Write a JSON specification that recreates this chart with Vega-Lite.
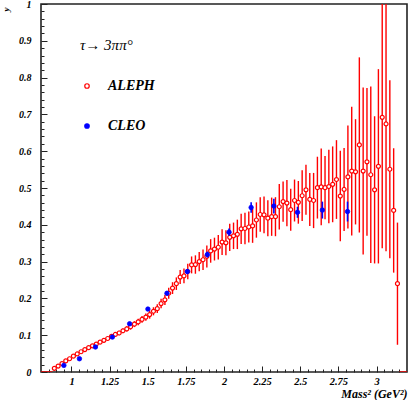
{
  "$schema": "https://vega.github.io/schema/vega-lite/v6.json",
  "width": 366,
  "height": 368,
  "autosize": {"type": "none"},
  "padding": {"left": 41, "top": 4, "right": 2, "bottom": 28},
  "background": "white",
  "config": {"view": {"stroke": "#222", "strokeWidth": 1.6}, "font": "Liberation Serif"},
  "datasets": {
    "zero": [{"a": 0.8, "b": 0.875}, {"a": 3.15, "b": 3.2}],
    "aleph": [
      {"exp":"ALEPH","x":0.8875,"y":0.010,"lo":0.007,"hi":0.013},
      {"exp":"ALEPH","x":0.9125,"y":0.016,"lo":0.013,"hi":0.019},
      {"exp":"ALEPH","x":0.9375,"y":0.023,"lo":0.020,"hi":0.026},
      {"exp":"ALEPH","x":0.9625,"y":0.030,"lo":0.027,"hi":0.033},
      {"exp":"ALEPH","x":0.9875,"y":0.036,"lo":0.033,"hi":0.039},
      {"exp":"ALEPH","x":1.0125,"y":0.043,"lo":0.040,"hi":0.046},
      {"exp":"ALEPH","x":1.0375,"y":0.049,"lo":0.046,"hi":0.052},
      {"exp":"ALEPH","x":1.0625,"y":0.055,"lo":0.052,"hi":0.058},
      {"exp":"ALEPH","x":1.0875,"y":0.061,"lo":0.058,"hi":0.064},
      {"exp":"ALEPH","x":1.1125,"y":0.066,"lo":0.062,"hi":0.070},
      {"exp":"ALEPH","x":1.1375,"y":0.071,"lo":0.067,"hi":0.075},
      {"exp":"ALEPH","x":1.1625,"y":0.076,"lo":0.072,"hi":0.080},
      {"exp":"ALEPH","x":1.1875,"y":0.081,"lo":0.077,"hi":0.085},
      {"exp":"ALEPH","x":1.2125,"y":0.086,"lo":0.081,"hi":0.091},
      {"exp":"ALEPH","x":1.2375,"y":0.091,"lo":0.086,"hi":0.096},
      {"exp":"ALEPH","x":1.2625,"y":0.097,"lo":0.092,"hi":0.102},
      {"exp":"ALEPH","x":1.2875,"y":0.102,"lo":0.096,"hi":0.108},
      {"exp":"ALEPH","x":1.3125,"y":0.106,"lo":0.100,"hi":0.112},
      {"exp":"ALEPH","x":1.3375,"y":0.112,"lo":0.106,"hi":0.118},
      {"exp":"ALEPH","x":1.3625,"y":0.117,"lo":0.110,"hi":0.124},
      {"exp":"ALEPH","x":1.3875,"y":0.123,"lo":0.115,"hi":0.131},
      {"exp":"ALEPH","x":1.4125,"y":0.130,"lo":0.122,"hi":0.138},
      {"exp":"ALEPH","x":1.4375,"y":0.136,"lo":0.127,"hi":0.145},
      {"exp":"ALEPH","x":1.4625,"y":0.143,"lo":0.134,"hi":0.152},
      {"exp":"ALEPH","x":1.4875,"y":0.149,"lo":0.139,"hi":0.159},
      {"exp":"ALEPH","x":1.5125,"y":0.156,"lo":0.145,"hi":0.167},
      {"exp":"ALEPH","x":1.5375,"y":0.165,"lo":0.154,"hi":0.176},
      {"exp":"ALEPH","x":1.5625,"y":0.172,"lo":0.160,"hi":0.184},
      {"exp":"ALEPH","x":1.5875,"y":0.186,"lo":0.173,"hi":0.199},
      {"exp":"ALEPH","x":1.6125,"y":0.196,"lo":0.182,"hi":0.210},
      {"exp":"ALEPH","x":1.6375,"y":0.214,"lo":0.199,"hi":0.229},
      {"exp":"ALEPH","x":1.6625,"y":0.228,"lo":0.212,"hi":0.244},
      {"exp":"ALEPH","x":1.6875,"y":0.240,"lo":0.223,"hi":0.257},
      {"exp":"ALEPH","x":1.7125,"y":0.258,"lo":0.239,"hi":0.277},
      {"exp":"ALEPH","x":1.7375,"y":0.261,"lo":0.241,"hi":0.281},
      {"exp":"ALEPH","x":1.7625,"y":0.273,"lo":0.252,"hi":0.294},
      {"exp":"ALEPH","x":1.7875,"y":0.291,"lo":0.268,"hi":0.314},
      {"exp":"ALEPH","x":1.8125,"y":0.292,"lo":0.267,"hi":0.317},
      {"exp":"ALEPH","x":1.8375,"y":0.300,"lo":0.274,"hi":0.326},
      {"exp":"ALEPH","x":1.8625,"y":0.305,"lo":0.277,"hi":0.333},
      {"exp":"ALEPH","x":1.8875,"y":0.314,"lo":0.284,"hi":0.344},
      {"exp":"ALEPH","x":1.9125,"y":0.329,"lo":0.297,"hi":0.361},
      {"exp":"ALEPH","x":1.9375,"y":0.334,"lo":0.303,"hi":0.365},
      {"exp":"ALEPH","x":1.9625,"y":0.339,"lo":0.306,"hi":0.372},
      {"exp":"ALEPH","x":1.9875,"y":0.353,"lo":0.318,"hi":0.388},
      {"exp":"ALEPH","x":2.0125,"y":0.351,"lo":0.317,"hi":0.385},
      {"exp":"ALEPH","x":2.0375,"y":0.366,"lo":0.329,"hi":0.403},
      {"exp":"ALEPH","x":2.0625,"y":0.370,"lo":0.334,"hi":0.406},
      {"exp":"ALEPH","x":2.0875,"y":0.374,"lo":0.334,"hi":0.414},
      {"exp":"ALEPH","x":2.1125,"y":0.389,"lo":0.348,"hi":0.430},
      {"exp":"ALEPH","x":2.1375,"y":0.390,"lo":0.347,"hi":0.433},
      {"exp":"ALEPH","x":2.1625,"y":0.394,"lo":0.352,"hi":0.436},
      {"exp":"ALEPH","x":2.1875,"y":0.397,"lo":0.351,"hi":0.443},
      {"exp":"ALEPH","x":2.2125,"y":0.413,"lo":0.365,"hi":0.461},
      {"exp":"ALEPH","x":2.2375,"y":0.428,"lo":0.381,"hi":0.475},
      {"exp":"ALEPH","x":2.2625,"y":0.427,"lo":0.377,"hi":0.477},
      {"exp":"ALEPH","x":2.2875,"y":0.418,"lo":0.369,"hi":0.467},
      {"exp":"ALEPH","x":2.3125,"y":0.422,"lo":0.370,"hi":0.474},
      {"exp":"ALEPH","x":2.3375,"y":0.422,"lo":0.369,"hi":0.475},
      {"exp":"ALEPH","x":2.3625,"y":0.449,"lo":0.387,"hi":0.511},
      {"exp":"ALEPH","x":2.3875,"y":0.463,"lo":0.408,"hi":0.518},
      {"exp":"ALEPH","x":2.4125,"y":0.459,"lo":0.396,"hi":0.522},
      {"exp":"ALEPH","x":2.4375,"y":0.441,"lo":0.384,"hi":0.498},
      {"exp":"ALEPH","x":2.4625,"y":0.466,"lo":0.409,"hi":0.523},
      {"exp":"ALEPH","x":2.4875,"y":0.461,"lo":0.403,"hi":0.519},
      {"exp":"ALEPH","x":2.5125,"y":0.479,"lo":0.410,"hi":0.548},
      {"exp":"ALEPH","x":2.5375,"y":0.495,"lo":0.427,"hi":0.563},
      {"exp":"ALEPH","x":2.5625,"y":0.469,"lo":0.397,"hi":0.541},
      {"exp":"ALEPH","x":2.5875,"y":0.466,"lo":0.391,"hi":0.541},
      {"exp":"ALEPH","x":2.6125,"y":0.501,"lo":0.417,"hi":0.585},
      {"exp":"ALEPH","x":2.6375,"y":0.503,"lo":0.399,"hi":0.607},
      {"exp":"ALEPH","x":2.6625,"y":0.501,"lo":0.415,"hi":0.587},
      {"exp":"ALEPH","x":2.6875,"y":0.504,"lo":0.404,"hi":0.604},
      {"exp":"ALEPH","x":2.7125,"y":0.510,"lo":0.407,"hi":0.613},
      {"exp":"ALEPH","x":2.7375,"y":0.523,"lo":0.416,"hi":0.630},
      {"exp":"ALEPH","x":2.7625,"y":0.478,"lo":0.355,"hi":0.601},
      {"exp":"ALEPH","x":2.7875,"y":0.496,"lo":0.383,"hi":0.609},
      {"exp":"ALEPH","x":2.8125,"y":0.530,"lo":0.390,"hi":0.670},
      {"exp":"ALEPH","x":2.8375,"y":0.546,"lo":0.371,"hi":0.721},
      {"exp":"ALEPH","x":2.8625,"y":0.544,"lo":0.401,"hi":0.687},
      {"exp":"ALEPH","x":2.8875,"y":0.617,"lo":0.379,"hi":0.855},
      {"exp":"ALEPH","x":2.9125,"y":0.546,"lo":0.319,"hi":0.773},
      {"exp":"ALEPH","x":2.9375,"y":0.571,"lo":0.370,"hi":0.772},
      {"exp":"ALEPH","x":2.9625,"y":0.536,"lo":0.296,"hi":0.776},
      {"exp":"ALEPH","x":2.9875,"y":0.495,"lo":0.295,"hi":0.695},
      {"exp":"ALEPH","x":3.0125,"y":0.559,"lo":0.295,"hi":0.823},
      {"exp":"ALEPH","x":3.0375,"y":0.692,"lo":0.336,"hi":1.048},
      {"exp":"ALEPH","x":3.0625,"y":0.674,"lo":0.328,"hi":1.020},
      {"exp":"ALEPH","x":3.0875,"y":0.551,"lo":0.309,"hi":0.793},
      {"exp":"ALEPH","x":3.1125,"y":0.439,"lo":0.270,"hi":0.608},
      {"exp":"ALEPH","x":3.1375,"y":0.240,"lo":0.074,"hi":0.406}
    ],
    "cleo": [
      {"exp":"CLEO","x":0.950,"y":0.018,"lo":0.015,"hi":0.021},
      {"exp":"CLEO","x":1.052,"y":0.036,"lo":0.033,"hi":0.039},
      {"exp":"CLEO","x":1.157,"y":0.068,"lo":0.065,"hi":0.071},
      {"exp":"CLEO","x":1.268,"y":0.095,"lo":0.091,"hi":0.099},
      {"exp":"CLEO","x":1.381,"y":0.131,"lo":0.127,"hi":0.135},
      {"exp":"CLEO","x":1.501,"y":0.171,"lo":0.166,"hi":0.176},
      {"exp":"CLEO","x":1.626,"y":0.214,"lo":0.208,"hi":0.220},
      {"exp":"CLEO","x":1.760,"y":0.273,"lo":0.266,"hi":0.280},
      {"exp":"CLEO","x":1.891,"y":0.319,"lo":0.311,"hi":0.327},
      {"exp":"CLEO","x":2.033,"y":0.380,"lo":0.370,"hi":0.390},
      {"exp":"CLEO","x":2.178,"y":0.447,"lo":0.433,"hi":0.461},
      {"exp":"CLEO","x":2.327,"y":0.451,"lo":0.431,"hi":0.471},
      {"exp":"CLEO","x":2.482,"y":0.434,"lo":0.419,"hi":0.449},
      {"exp":"CLEO","x":2.645,"y":0.440,"lo":0.417,"hi":0.463},
      {"exp":"CLEO","x":2.810,"y":0.436,"lo":0.409,"hi":0.463}
    ]
  },
  "resolve": {"axis": {"x": "independent", "y": "independent"}},
  "layer": [
    {
      "data": {"name": "zero"},
      "mark": {"type": "rule", "color": "#ff0000", "strokeWidth": 1.4, "clip": true},
      "encoding": {
        "x": {"field": "a", "type": "quantitative", "scale": {"domain": [0.8, 3.2], "nice": false, "zero": false},
          "axis": {"orient": "bottom", "values": [1, 1.25, 1.5, 1.75, 2, 2.25, 2.5, 2.75, 3], "labelExpr": "'' + datum.value", "ticks": false, "domain": false, "grid": false,
            "labelFont": "Liberation Serif", "labelFontSize": 10.5, "labelFontWeight": "bold", "labelFontStyle": "italic", "labelColor": "black", "labelPadding": 4, "labelFlush": false, "labelOverlap": false,
            "title": "Mass² (GeV²)", "titleFont": "Liberation Serif", "titleFontSize": 12, "titleFontWeight": "bold", "titleFontStyle": "italic", "titleColor": "black",
            "titleX": 366, "titleY": 21, "titleAlign": "right", "titleBaseline": "middle", "titleAngle": 0}},
        "x2": {"field": "b"},
        "y": {"datum": 0, "type": "quantitative", "scale": {"domain": [0, 1], "nice": false},
          "axis": {"orient": "left", "values": [0, 0.1, 0.2, 0.3, 0.4, 0.5, 0.6, 0.7, 0.8, 0.9, 1], "labelExpr": "'' + datum.value", "ticks": false, "domain": false, "grid": false,
            "labelFont": "Liberation Serif", "labelFontSize": 10, "labelFontWeight": "bold", "labelFontStyle": "italic", "labelColor": "black", "labelPadding": 10, "labelFlush": false, "labelOverlap": false,
            "title": "y", "titleFont": "Liberation Serif", "titleFontSize": 9, "titleFontWeight": "bold", "titleFontStyle": "italic", "titleColor": "black",
            "titleX": -36, "titleY": 5, "titleAngle": 270, "titleAlign": "center", "titleBaseline": "middle"}}
      }
    },
    {
      "data": {"name": "aleph"},
      "mark": {"type": "rule", "color": "#ff0000", "strokeWidth": 1.4, "clip": true},
      "encoding": {
        "x": {"field": "x", "type": "quantitative",
          "axis": {"orient": "bottom", "values": [1, 1.25, 1.5, 1.75, 2, 2.25, 2.5, 2.75, 3], "labels": false, "domain": false, "grid": false, "ticks": true, "tickSize": -6, "tickColor": "#222", "tickWidth": 1, "title": null}},
        "y": {"field": "lo", "type": "quantitative",
          "axis": {"orient": "left", "values": [0, 0.1, 0.2, 0.3, 0.4, 0.5, 0.6, 0.7, 0.8, 0.9, 1], "labels": false, "domain": false, "grid": false, "ticks": true, "tickSize": -6, "tickColor": "#222", "tickWidth": 1, "title": null}},
        "y2": {"field": "hi"}
      }
    },
    {
      "data": {"name": "aleph"},
      "mark": {"type": "point", "shape": "circle", "filled": true, "size": 16, "strokeWidth": 1.2, "opacity": 1, "clip": true},
      "encoding": {
        "x": {"field": "x", "type": "quantitative",
          "axis": {"orient": "bottom", "values": [0.85, 0.9, 0.95, 1.05, 1.1, 1.15, 1.2, 1.3, 1.35, 1.4, 1.45, 1.55, 1.6, 1.65, 1.7, 1.8, 1.85, 1.9, 1.95, 2.05, 2.1, 2.15, 2.2, 2.3, 2.35, 2.4, 2.45, 2.55, 2.6, 2.65, 2.7, 2.8, 2.85, 2.9, 2.95, 3.05, 3.1, 3.15], "labels": false, "domain": false, "grid": false, "ticks": true, "tickSize": -3, "tickColor": "#222", "tickWidth": 1, "title": null}},
        "y": {"field": "y", "type": "quantitative",
          "axis": {"orient": "left", "values": [0.02, 0.04, 0.06, 0.08, 0.12, 0.14, 0.16, 0.18, 0.22, 0.24, 0.26, 0.28, 0.32, 0.34, 0.36, 0.38, 0.42, 0.44, 0.46, 0.48, 0.52, 0.54, 0.56, 0.58, 0.62, 0.64, 0.66, 0.68, 0.72, 0.74, 0.76, 0.78, 0.82, 0.84, 0.86, 0.88, 0.92, 0.94, 0.96, 0.98], "labels": false, "domain": false, "grid": false, "ticks": true, "tickSize": -3, "tickColor": "#222", "tickWidth": 1, "title": null}},
        "fill": {"field": "exp", "type": "nominal", "scale": {"domain": ["ALEPH", "CLEO"], "range": ["#ffffff", "#0000ff"]},
          "legend": {"orient": "none", "legendX": 39, "legendY": 34, "direction": "vertical", "padding": 0,
            "title": "τ→ 3ππ°", "titleFont": "Liberation Serif", "titleFontSize": 15, "titleFontStyle": "italic", "titleFontWeight": "normal", "titleColor": "black", "titlePadding": 26,
            "labelFont": "Liberation Serif", "labelFontSize": 14, "labelFontWeight": "bold", "labelFontStyle": "italic", "labelColor": "black", "labelOffset": 14,
            "rowPadding": 26, "symbolSize": 20, "symbolStrokeWidth": 1.2, "symbolType": "circle"}},
        "stroke": {"field": "exp", "type": "nominal", "scale": {"domain": ["ALEPH", "CLEO"], "range": ["#ff0000", "#0000ff"]},
          "legend": {"orient": "none", "legendX": 39, "legendY": 34, "direction": "vertical", "padding": 0,
            "title": "τ→ 3ππ°", "titleFont": "Liberation Serif", "titleFontSize": 15, "titleFontStyle": "italic", "titleFontWeight": "normal", "titleColor": "black", "titlePadding": 26,
            "labelFont": "Liberation Serif", "labelFontSize": 14, "labelFontWeight": "bold", "labelFontStyle": "italic", "labelColor": "black", "labelOffset": 14,
            "rowPadding": 26, "symbolSize": 20, "symbolStrokeWidth": 1.2, "symbolType": "circle"}}
      }
    },
    {
      "data": {"name": "cleo"},
      "mark": {"type": "rule", "color": "#0000ff", "strokeWidth": 1.6, "clip": true},
      "encoding": {
        "x": {"field": "x", "type": "quantitative", "axis": null},
        "y": {"field": "lo", "type": "quantitative", "axis": null},
        "y2": {"field": "hi"}
      }
    },
    {
      "data": {"name": "cleo"},
      "mark": {"type": "point", "shape": "circle", "filled": true, "size": 20, "strokeWidth": 0.8, "opacity": 1, "clip": true},
      "encoding": {
        "x": {"field": "x", "type": "quantitative", "axis": null},
        "y": {"field": "y", "type": "quantitative", "axis": null},
        "fill": {"field": "exp", "type": "nominal"},
        "stroke": {"field": "exp", "type": "nominal"}
      }
    }
  ]
}
